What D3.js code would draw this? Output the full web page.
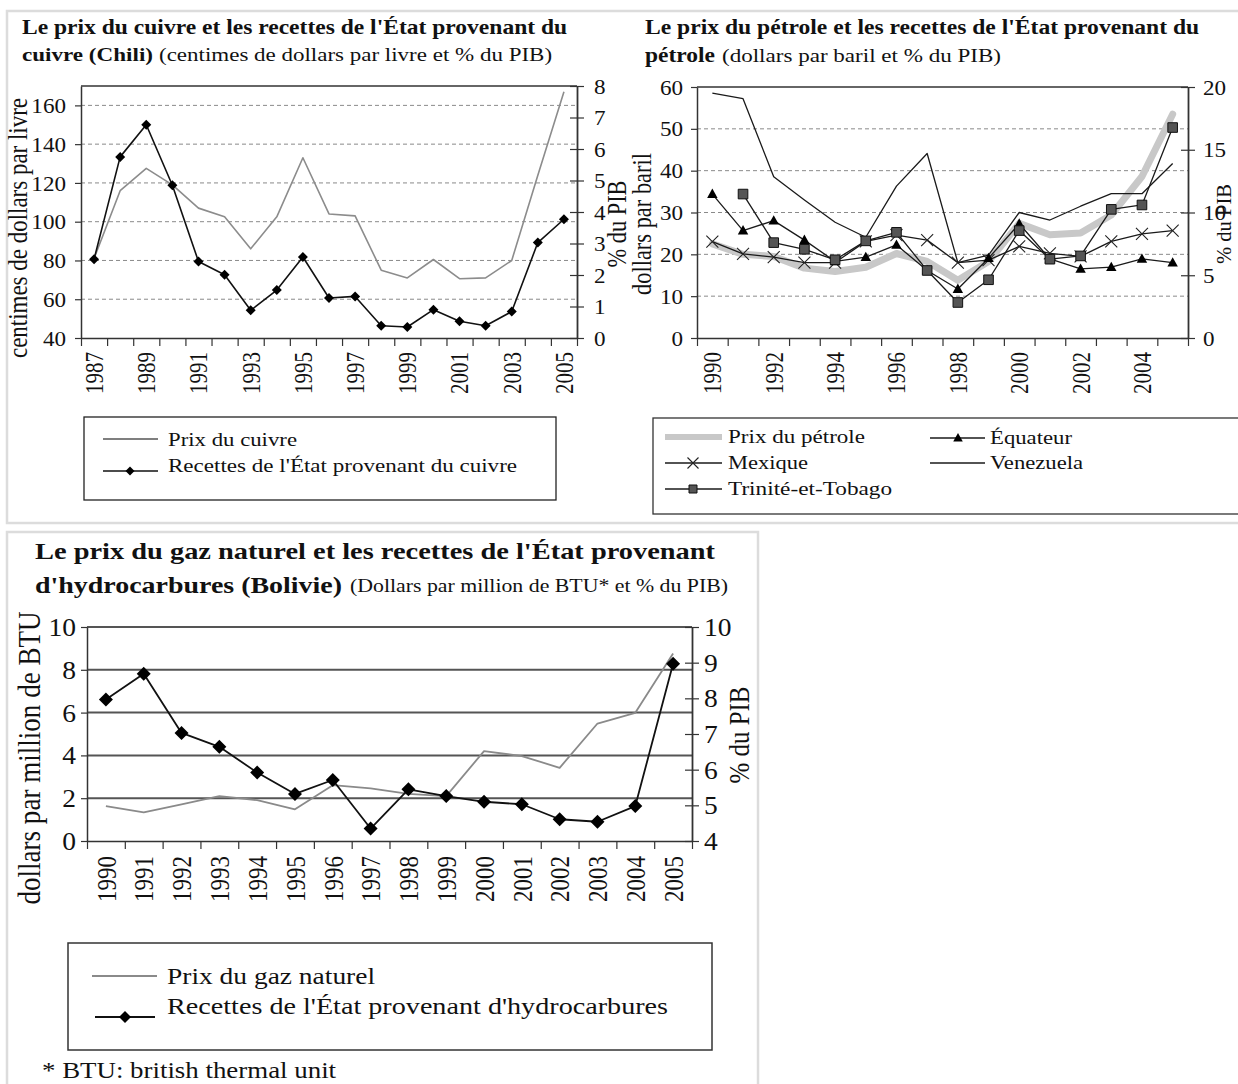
<!DOCTYPE html>
<html><head><meta charset="utf-8">
<script src="https://cdn.jsdelivr.net/npm/d3@7"></script>
<style>
body{margin:0;background:#fff}
svg{display:block}
text{font-family:"Liberation Serif","Times New Roman",serif;fill:#111}
</style>
</head><body>
<svg id="c" width="1238" height="1084"></svg>
<script>
// ---------------- DATA ----------------
const copperYears = [1987,1988,1989,1990,1991,1992,1993,1994,1995,1996,1997,1998,1999,2000,2001,2002,2003,2004,2005];
const copperLabels = [1987,1989,1991,1993,1995,1997,1999,2001,2003,2005];
const copperPrice = [81,116,127.5,119,107,102.5,86,102.5,133,104,103,75,71,80.5,70.6,71,80,124,167];
const copperRevenue = [2.5,5.75,6.77,4.85,2.43,2.01,0.88,1.52,2.57,1.27,1.32,0.39,0.35,0.90,0.53,0.39,0.84,3.03,3.77];
const copperLeftTicks = [40,60,80,100,120,140,160];
const copperRightTicks = [0,1,2,3,4,5,6,7,8];

const oilYears = [1990,1991,1992,1993,1994,1995,1996,1997,1998,1999,2000,2001,2002,2003,2004,2005];
const oilLabels = [1990,1992,1994,1996,1998,2000,2002,2004];
const oilPrice = [22.5,20,19.5,16.7,15.9,16.9,20.2,18.3,13.8,18.3,27.4,24.7,25.1,29.4,38.6,53.5];
const mexico = [7.68,6.70,6.44,6.01,6.01,7.7,8.2,7.8,6.0,6.2,7.3,6.75,6.5,7.7,8.3,8.55];
const ecuador = [11.47,8.56,9.35,7.8,6.1,6.44,7.42,5.38,3.9,6.36,9.1,6.3,5.5,5.64,6.3,6.0];
const trinidad = [null,11.47,7.6,7.07,6.23,7.74,8.42,5.38,2.83,4.64,8.56,6.28,6.54,10.25,10.6,16.77];
const venezuela = [19.52,19.07,12.85,11.0,9.22,8.03,12.1,14.7,6.0,6.6,10.0,9.4,10.5,11.5,11.5,13.9];
const oilLeftTicks = [0,10,20,30,40,50,60];
const oilRightTicks = [0,5,10,15,20];

const gasYears = [1990,1991,1992,1993,1994,1995,1996,1997,1998,1999,2000,2001,2002,2003,2004,2005];
const gasPrice = [1.63,1.34,1.71,2.1,1.91,1.48,2.61,2.46,2.2,2.1,4.2,3.97,3.42,5.49,5.99,8.76];
const boliviaRevenue = [7.97,8.69,7.03,6.64,5.92,5.32,5.71,4.35,5.45,5.26,5.10,5.03,4.61,4.54,4.98,8.97];
const gasLeftTicks = [0,2,4,6,8,10];
const gasRightTicks = [4,5,6,7,8,9,10];

// ---------------- HELPERS ----------------
const SX = 1.18;   // horizontal stretch of the reference's lettering
const TSX = 1.1;   // stretch for tick numbers
const svg = d3.select('#c');
const fmt = d3.format('d');

function txt(g, x, y, s, o = {}) {
  const t = g.append('text')
    .attr('transform', `translate(${x},${y}) scale(${o.sx ?? SX},1)` + (o.rot ? ` rotate(${o.rot})` : ''))
    .attr('font-size', o.size || 20)
    .attr('font-weight', o.weight || 'normal')
    .attr('text-anchor', o.anchor || 'start')
    .text(s);
  if (o.width) {
    const w = t.node().getComputedTextLength();
    const k = o.rot ? 1 : (o.sx ?? SX);
    t.attr('font-size', (o.size || 20) * o.width / (w * k));
  }
  return t;
}
function diamondPath(s){return `M0,${-s}L${s},0L0,${s}L${-s},0Z`;}
function triPath(s){return `M0,${-s}L${s*0.95},${s*0.7}L${-s*0.95},${s*0.7}Z`;}
function xPath(s){return `M${-s},${-s}L${s},${s}M${-s},${s}L${s},${-s}`;}
function squarePath(s){return `M${-s},${-s}H${s}V${s}H${-s}Z`;}

function marker(g, type, x, y, sz) {
  const p = g.append('path').attr('transform', `translate(${x},${y})`);
  if (type === 'diamond') p.attr('d', diamondPath(sz)).attr('fill', '#000');
  if (type === 'tri') p.attr('d', triPath(sz)).attr('fill', '#000');
  if (type === 'x') p.attr('d', xPath(sz)).attr('fill', 'none').attr('stroke', '#222').attr('stroke-width', 1.1);
  if (type === 'square') p.attr('d', squarePath(sz)).attr('fill', '#555').attr('stroke', '#111').attr('stroke-width', 1);
  return p;
}

function chart(c) {
  const g = svg.append('g');
  const x = d3.scaleBand().domain(c.years).range([c.x0, c.x1]);
  const xi = d3.scaleLinear().domain([0, c.years.length]).range([c.x0, c.x1]);
  const yL = d3.scaleLinear().domain(c.leftDomain).range([c.y1, c.y0]);
  const yR = d3.scaleLinear().domain(c.rightDomain).range([c.y1, c.y0]);
  const cx = (d) => x(d) + x.bandwidth() / 2;

  // gridlines
  g.append('g').selectAll('line').data(c.grid).join('line')
    .attr('x1', c.x0).attr('x2', c.x1)
    .attr('y1', d => yL(d)).attr('y2', d => yL(d))
    .attr('stroke', c.gridColor).attr('stroke-width', c.gridWidth)
    .attr('stroke-dasharray', c.gridDash || null);
  if (c.topBorder) g.append('line').attr('x1', c.x0).attr('x2', c.x1).attr('y1', c.y0).attr('y2', c.y0)
    .attr('stroke', '#333').attr('stroke-width', 1.5);

  // left axis
  const aL = g.append('g').attr('transform', `translate(${c.x0},0)`)
    .call(d3.axisLeft(yL).tickValues(c.leftTicks).tickFormat(fmt).tickSize(6).tickSizeOuter(0));
  aL.attr('font-family', null).attr('font-size', null);
  aL.select('.domain').attr('stroke', '#333').attr('stroke-width', 1.5);
  aL.selectAll('.tick line').attr('stroke', '#333').attr('stroke-width', 1.2);
  aL.selectAll('.tick text').attr('x', null).attr('dy', '0.34em')
    .attr('transform', `translate(${-c.leftGap},0) scale(${TSX},1)`)
    .attr('text-anchor', 'end').attr('font-size', c.tickSize).attr('fill', '#111');

  // right axis
  const aR = g.append('g').attr('transform', `translate(${c.x1},0)`)
    .call(d3.axisRight(yR).tickValues(c.rightTicks).tickFormat(fmt).tickSize(7).tickSizeOuter(0));
  aR.attr('font-family', null).attr('font-size', null);
  aR.select('.domain').attr('stroke', '#333').attr('stroke-width', 1.8);
  aR.selectAll('.tick line').attr('x1', -7).attr('stroke', '#333').attr('stroke-width', 1.2);
  aR.selectAll('.tick text').attr('x', null).attr('dy', '0.34em')
    .attr('transform', `translate(${c.rightGap},0) scale(${TSX},1)`)
    .attr('text-anchor', 'start').attr('font-size', c.tickSize).attr('fill', '#111');

  // bottom axis: boundary ticks
  const aB = g.append('g').attr('transform', `translate(0,${c.y1})`)
    .call(d3.axisBottom(xi).tickValues(d3.range(c.years.length + 1)).tickSize(8).tickSizeOuter(0).tickFormat(''));
  aB.select('.domain').attr('stroke', '#333').attr('stroke-width', 1.5);
  aB.selectAll('.tick line').attr('stroke', '#333').attr('stroke-width', 1.2);
  // bottom labels
  const aBL = g.append('g').attr('transform', `translate(0,${c.y1})`)
    .call(d3.axisBottom(x).tickValues(c.labels).tickFormat(fmt).tickSize(0).tickSizeOuter(0));
  aBL.attr('font-family', null).attr('font-size', null);
  aBL.select('.domain').remove();
  aBL.selectAll('.tick text').attr('y', null).attr('dy', '0.36em')
    .attr('transform', `translate(0,${c.labelGap}) scale(${SX},1) rotate(-90)`)
    .attr('text-anchor', 'end').attr('font-size', c.xLabelSize).attr('fill', '#111');

  // series
  c.series.forEach(s => {
    const ys = s.axis === 'L' ? yL : yR;
    const line = d3.line().defined(d => d != null)
      .x((d, i) => cx(c.years[i])).y(d => ys(d));
    g.append('path').datum(s.values).attr('d', line).attr('fill', 'none')
      .attr('stroke', s.color).attr('stroke-width', s.width)
      .attr('stroke-linejoin', 'round').attr('stroke-linecap', s.cap || 'butt');
    if (s.marker) {
      s.values.forEach((v, i) => {
        if (v == null) return;
        marker(g, s.marker, cx(c.years[i]), ys(v), s.msize);
      });
    }
  });
  return g;
}

// ---------------- PANEL BORDERS ----------------
svg.append('rect').attr('x', 7).attr('y', 11).attr('width', 1245).attr('height', 512)
  .attr('fill', 'none').attr('stroke', '#dcdcdc').attr('stroke-width', 2.5);
svg.append('rect').attr('x', 7).attr('y', 532).attr('width', 751).attr('height', 570)
  .attr('fill', 'none').attr('stroke', '#dcdcdc').attr('stroke-width', 2.5);

// ---------------- COPPER ----------------
const T = svg.append('g');
txt(T, 22, 34, "Le prix du cuivre et les recettes de l'État provenant du", {size: 21, weight: 'bold', width: 545});
txt(T, 22, 61, "cuivre (Chili)", {size: 21, weight: 'bold', width: 131});
txt(T, 159, 61, "(centimes de dollars par livre et % du PIB)", {size: 20, width: 393});

chart({
  years: copperYears, labels: copperLabels,
  x0: 81, x1: 577, y0: 86, y1: 338,
  leftDomain: [40, 170], rightDomain: [0, 8],
  leftTicks: copperLeftTicks, rightTicks: copperRightTicks,
  grid: [60, 80, 100, 120, 140, 160], gridColor: '#8a8a8a', gridWidth: 1, gridDash: '4,3',
  topBorder: true, tickSize: 21, xLabelSize: 21, leftGap: 15, rightGap: 17, labelGap: 14,
  series: [
    {values: copperPrice, axis: 'L', color: '#8c8c8c', width: 1.6},
    {values: copperRevenue, axis: 'R', color: '#111', width: 1.6, marker: 'diamond', msize: 5},
  ]
});
txt(T, 27, 228, "centimes de dollars par livre", {size: 22, rot: -90, anchor: 'middle', width: 260});
txt(T, 626, 224, "% du PIB", {size: 21, rot: -90, anchor: 'middle', width: 87});

// copper legend
const LC = svg.append('g');
LC.append('rect').attr('x', 84).attr('y', 417).attr('width', 472).attr('height', 83)
  .attr('fill', 'none').attr('stroke', '#222').attr('stroke-width', 1.3);
LC.append('line').attr('x1', 103).attr('x2', 158).attr('y1', 439).attr('y2', 439).attr('stroke', '#555').attr('stroke-width', 1.6);
txt(LC, 168, 446, "Prix du cuivre", {size: 19, width: 129});
LC.append('line').attr('x1', 103).attr('x2', 158).attr('y1', 471).attr('y2', 471).attr('stroke', '#111').attr('stroke-width', 1.6);
marker(LC, 'diamond', 130, 471, 4.5);
txt(LC, 168, 472, "Recettes de l'État provenant du cuivre", {size: 19, width: 349});

// ---------------- OIL ----------------
txt(T, 645, 34, "Le prix du pétrole et les recettes de l'État provenant du", {size: 21, weight: 'bold', width: 554});
txt(T, 645, 62, "pétrole", {size: 21, weight: 'bold', width: 70});
txt(T, 722, 62, "(dollars par baril et % du PIB)", {size: 20, width: 279});

chart({
  years: oilYears, labels: oilLabels,
  x0: 697, x1: 1188, y0: 87, y1: 338,
  leftDomain: [0, 60], rightDomain: [0, 20],
  leftTicks: oilLeftTicks, rightTicks: oilRightTicks,
  grid: [10, 20, 30, 40, 50], gridColor: '#8a8a8a', gridWidth: 1, gridDash: '4,3',
  topBorder: true, tickSize: 21, xLabelSize: 21, leftGap: 14, rightGap: 15, labelGap: 14,
  series: [
    {values: oilPrice, axis: 'L', color: '#c8c8c8', width: 7, cap: 'round'},
    {values: venezuela, axis: 'R', color: '#1a1a1a', width: 1.3},
    {values: mexico, axis: 'R', color: '#1a1a1a', width: 1.3, marker: 'x', msize: 6},
    {values: ecuador, axis: 'R', color: '#1a1a1a', width: 1.3, marker: 'tri', msize: 5.5},
    {values: trinidad, axis: 'R', color: '#1a1a1a', width: 1.3, marker: 'square', msize: 4.8},
  ]
});
txt(T, 651, 224, "dollars par baril", {size: 22, rot: -90, anchor: 'middle', width: 142});
txt(T, 1231, 224, "% du PIB", {size: 20, rot: -90, anchor: 'middle', width: 80, sx: 1.0});

// oil legend
const LO = svg.append('g');
LO.append('rect').attr('x', 653).attr('y', 418).attr('width', 600).attr('height', 96)
  .attr('fill', 'none').attr('stroke', '#333').attr('stroke-width', 1.3);
LO.append('line').attr('x1', 665).attr('x2', 722).attr('y1', 437).attr('y2', 437).attr('stroke', '#c8c8c8').attr('stroke-width', 6);
txt(LO, 728, 443, "Prix du pétrole", {size: 19, width: 137});
LO.append('line').attr('x1', 665).attr('x2', 722).attr('y1', 463).attr('y2', 463).attr('stroke', '#1a1a1a').attr('stroke-width', 1.3);
marker(LO, 'x', 693, 463, 5.5);
txt(LO, 728, 469, "Mexique", {size: 19, width: 80});
LO.append('line').attr('x1', 665).attr('x2', 722).attr('y1', 489).attr('y2', 489).attr('stroke', '#1a1a1a').attr('stroke-width', 1.3);
marker(LO, 'square', 693, 489, 4);
txt(LO, 728, 495, "Trinité-et-Tobago", {size: 19, width: 164});
LO.append('line').attr('x1', 930).attr('x2', 985).attr('y1', 438).attr('y2', 438).attr('stroke', '#1a1a1a').attr('stroke-width', 1.3);
marker(LO, 'tri', 958, 438, 5);
txt(LO, 990, 444, "Équateur", {size: 19, width: 82});
LO.append('line').attr('x1', 930).attr('x2', 985).attr('y1', 463).attr('y2', 463).attr('stroke', '#1a1a1a').attr('stroke-width', 1.3);
txt(LO, 990, 469, "Venezuela", {size: 19, width: 93});

// ---------------- GAS ----------------
txt(T, 35, 559, "Le prix du gaz naturel et les recettes de l'État provenant", {size: 24, weight: 'bold', width: 680});
txt(T, 35, 593, "d'hydrocarbures (Bolivie)", {size: 24, weight: 'bold', width: 307});
txt(T, 350, 592, "(Dollars par million de BTU* et % du PIB)", {size: 18, width: 378});

chart({
  years: gasYears, labels: gasYears,
  x0: 87, x1: 692, y0: 627, y1: 841,
  leftDomain: [0, 10], rightDomain: [4, 10],
  leftTicks: gasLeftTicks, rightTicks: gasRightTicks,
  grid: [2, 4, 6, 8, 10], gridColor: '#555', gridWidth: 2,
  topBorder: false, tickSize: 25, xLabelSize: 23, leftGap: 11, rightGap: 12, labelGap: 15,
  series: [
    {values: gasPrice, axis: 'L', color: '#8a8a8a', width: 1.8},
    {values: boliviaRevenue, axis: 'R', color: '#111', width: 1.8, marker: 'diamond', msize: 7},
  ]
});
txt(T, 40, 758, "dollars par million de BTU", {size: 26, rot: -90, anchor: 'middle', width: 293});
txt(T, 749, 735, "% du PIB", {size: 24, rot: -90, anchor: 'middle', width: 97});

// gas legend
const LG = svg.append('g');
LG.append('rect').attr('x', 68).attr('y', 943).attr('width', 644).attr('height', 107)
  .attr('fill', 'none').attr('stroke', '#333').attr('stroke-width', 1.5);
LG.append('line').attr('x1', 92).attr('x2', 157).attr('y1', 976).attr('y2', 976).attr('stroke', '#8a8a8a').attr('stroke-width', 1.8);
txt(LG, 167, 984, "Prix du gaz naturel", {size: 23, width: 208});
LG.append('line').attr('x1', 95).attr('x2', 155).attr('y1', 1017).attr('y2', 1017).attr('stroke', '#111').attr('stroke-width', 1.8);
marker(LG, 'diamond', 125, 1017, 6);
txt(LG, 167, 1014, "Recettes de l'État provenant d'hydrocarbures", {size: 23, width: 501});

txt(T, 42, 1078, "* BTU: british thermal unit", {size: 23, width: 294});
</script>
</body></html>
